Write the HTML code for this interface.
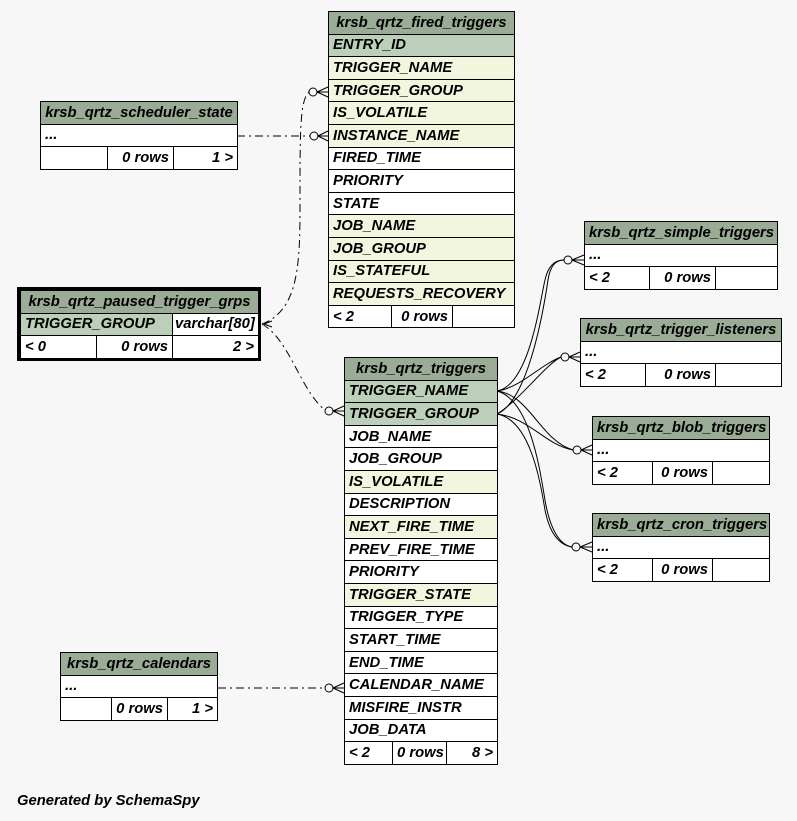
<!DOCTYPE html>
<html><head><meta charset="utf-8"><style>
body{margin:0;width:797px;height:821px;background:#f7f7f7;position:relative;overflow:hidden;font:italic bold 14.8px "Liberation Sans",sans-serif;color:#000}
table{position:absolute;border-collapse:collapse;table-layout:fixed;font:italic bold 14.8px "Liberation Sans",sans-serif}
td{border:1px solid #000;padding:0 4px;height:21.6px;line-height:20px;white-space:nowrap;overflow:hidden;background:#fff}
td.h{background:#9aab96;text-align:center}
td.p{background:#bccfba}
td.y{background:#f3f6df}
td.r{text-align:right}
.pg{position:absolute;left:17px;top:287px;width:238px;height:68px;border:3px solid #000}
svg{position:absolute;left:0;top:0}
</style></head><body>
<svg width="797" height="821" fill="none" stroke="#000" stroke-width="1">
<g stroke-dasharray="8,4,2,4">
<path d="M237 136 L310 136"/>
<path d="M218 688 L325 688"/>
<path d="M262 324 C300 310 300 260 300 200 C300 130 300 100 309 92"/>
<path d="M262 324 C290 340 300 390 325 410"/>
</g>
<circle cx="314" cy="136" r="4"/><path d="M318 136 L328 136 M318 136 L328 131 M318 136 L328 141"/>
<circle cx="313" cy="92" r="4"/><path d="M317 92 L328 92 M317 92 L328 87 M317 92 L328 97"/>
<circle cx="329" cy="688" r="4"/><path d="M333 688 L344 688 M333 688 L344 683 M333 688 L344 693"/>
<circle cx="329" cy="411" r="4"/><path d="M333 411 L344 411 M333 411 L344 406 M333 411 L344 416"/>
<path d="M264 324 L272 321 M264 324 L272 327"/>
<path d="M497 391 C530 385 540 300 545 280 C548 266 555 260 564 260"/>
<path d="M497 414 C530 400 545 300 548 280 C550 266 556 260 564 260"/>
<circle cx="568" cy="260" r="4"/><path d="M572 260 L584 260 M572 260 L584 255 M572 260 L584 265"/>
<path d="M497 391 C520 388 540 365 561 357"/>
<path d="M497 414 C520 400 545 365 561 357"/>
<circle cx="565" cy="357" r="4"/><path d="M569 357 L580 357 M569 357 L580 352 M569 357 L580 362"/>
<path d="M497 391 C530 395 540 440 573 450"/>
<path d="M497 414 C530 418 545 445 573 450"/>
<circle cx="577" cy="450" r="4"/><path d="M581 450 L592 450 M581 450 L592 445 M581 450 L592 455"/>
<path d="M497 391 C530 400 540 470 545 500 C550 530 560 545 572 547"/>
<path d="M497 414 C530 420 540 480 545 510 C550 535 560 545 572 547"/>
<circle cx="576" cy="547" r="4"/><path d="M580 547 L592 547 M580 547 L592 542 M580 547 L592 552"/>
</svg>

<table style="left:328px;top:11px;width:186px">
<colgroup><col style="width:63px"><col style="width:61px"><col style="width:62px"></colgroup>
<tr><td class="h" colspan="3">krsb_qrtz_fired_triggers</td></tr>
<tr><td class="p" colspan="3">ENTRY_ID</td></tr>
<tr><td class="y" colspan="3">TRIGGER_NAME</td></tr>
<tr><td class="y" colspan="3">TRIGGER_GROUP</td></tr>
<tr><td class="y" colspan="3">IS_VOLATILE</td></tr>
<tr><td class="y" colspan="3">INSTANCE_NAME</td></tr>
<tr><td colspan="3">FIRED_TIME</td></tr>
<tr><td colspan="3">PRIORITY</td></tr>
<tr><td colspan="3">STATE</td></tr>
<tr><td class="y" colspan="3">JOB_NAME</td></tr>
<tr><td class="y" colspan="3">JOB_GROUP</td></tr>
<tr><td class="y" colspan="3">IS_STATEFUL</td></tr>
<tr><td class="y" colspan="3">REQUESTS_RECOVERY</td></tr>
<tr><td>&lt; 2</td><td class="r">0 rows</td><td></td></tr>
</table>

<table style="left:40px;top:101px;width:197px">
<colgroup><col style="width:67px"><col style="width:66px"><col style="width:64px"></colgroup>
<tr><td class="h" colspan="3">krsb_qrtz_scheduler_state</td></tr>
<tr><td colspan="3">...</td></tr>
<tr><td></td><td class="r">0 rows</td><td class="r">1 &gt;</td></tr>
</table>

<div class="pg"></div>
<table style="left:20px;top:290px;width:238px">
<colgroup><col style="width:76px"><col style="width:76px"><col style="width:86px"></colgroup>
<tr><td class="h" colspan="3">krsb_qrtz_paused_trigger_grps</td></tr>
<tr><td class="p" colspan="2">TRIGGER_GROUP</td><td style="padding:0 2px">varchar[80]</td></tr>
<tr><td>&lt; 0</td><td class="r">0 rows</td><td class="r">2 &gt;</td></tr>
</table>

<table style="left:344px;top:357px;width:153px">
<colgroup><col style="width:48px"><col style="width:54px"><col style="width:51px"></colgroup>
<tr><td class="h" colspan="3">krsb_qrtz_triggers</td></tr>
<tr><td class="p" colspan="3">TRIGGER_NAME</td></tr>
<tr><td class="p" colspan="3">TRIGGER_GROUP</td></tr>
<tr><td colspan="3">JOB_NAME</td></tr>
<tr><td colspan="3">JOB_GROUP</td></tr>
<tr><td class="y" colspan="3">IS_VOLATILE</td></tr>
<tr><td colspan="3">DESCRIPTION</td></tr>
<tr><td class="y" colspan="3">NEXT_FIRE_TIME</td></tr>
<tr><td colspan="3">PREV_FIRE_TIME</td></tr>
<tr><td colspan="3">PRIORITY</td></tr>
<tr><td class="y" colspan="3">TRIGGER_STATE</td></tr>
<tr><td colspan="3">TRIGGER_TYPE</td></tr>
<tr><td colspan="3">START_TIME</td></tr>
<tr><td colspan="3">END_TIME</td></tr>
<tr><td colspan="3">CALENDAR_NAME</td></tr>
<tr><td colspan="3">MISFIRE_INSTR</td></tr>
<tr><td colspan="3">JOB_DATA</td></tr>
<tr><td>&lt; 2</td><td class="r">0 rows</td><td class="r">8 &gt;</td></tr>
</table>

<table style="left:584px;top:221px;width:193px">
<colgroup><col style="width:65px"><col style="width:66px"><col style="width:62px"></colgroup>
<tr><td class="h" colspan="3">krsb_qrtz_simple_triggers</td></tr>
<tr><td colspan="3">...</td></tr>
<tr><td>&lt; 2</td><td class="r">0 rows</td><td></td></tr>
</table>

<table style="left:580px;top:318px;width:201px">
<colgroup><col style="width:65px"><col style="width:70px"><col style="width:66px"></colgroup>
<tr><td class="h" colspan="3">krsb_qrtz_trigger_listeners</td></tr>
<tr><td colspan="3">...</td></tr>
<tr><td>&lt; 2</td><td class="r">0 rows</td><td></td></tr>
</table>

<table style="left:592px;top:416px;width:177px">
<colgroup><col style="width:60px"><col style="width:60px"><col style="width:57px"></colgroup>
<tr><td class="h" colspan="3">krsb_qrtz_blob_triggers</td></tr>
<tr><td colspan="3">...</td></tr>
<tr><td>&lt; 2</td><td class="r">0 rows</td><td></td></tr>
</table>

<table style="left:592px;top:513px;width:177px">
<colgroup><col style="width:60px"><col style="width:60px"><col style="width:57px"></colgroup>
<tr><td class="h" colspan="3">krsb_qrtz_cron_triggers</td></tr>
<tr><td colspan="3">...</td></tr>
<tr><td>&lt; 2</td><td class="r">0 rows</td><td></td></tr>
</table>

<table style="left:60px;top:652px;width:157px">
<colgroup><col style="width:51px"><col style="width:56px"><col style="width:50px"></colgroup>
<tr><td class="h" colspan="3">krsb_qrtz_calendars</td></tr>
<tr><td colspan="3">...</td></tr>
<tr><td></td><td class="r">0 rows</td><td class="r">1 &gt;</td></tr>
</table>

<div style="position:absolute;left:17px;top:793px">Generated by SchemaSpy</div>
</body></html>
